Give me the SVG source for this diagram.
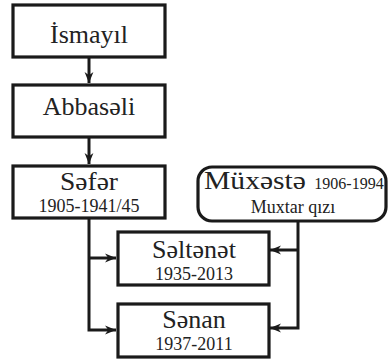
<svg xmlns="http://www.w3.org/2000/svg" width="389" height="359" viewBox="0 0 389 359">
<defs>
<style>
.box{fill:#fff;stroke:#1a1a1a;stroke-width:3.2}
.ln{fill:none;stroke:#1a1a1a;stroke-width:3}
text{font-family:"Liberation Serif","Times New Roman",serif;fill:#222;text-anchor:middle}
.big{font-size:26px}
.sm{font-size:18px}
</style>
<marker id="ah" viewBox="0 0 10 10" refX="10" refY="5" markerWidth="11" markerHeight="11" markerUnits="userSpaceOnUse" orient="auto">
<path d="M0,1 L10,5 L0,9 L3,5 Z" fill="#1a1a1a"/>
</marker>
</defs>
<g id="connectors">
<path class="ln" d="M89,57 V83" marker-end="url(#ah)"/>
<path class="ln" d="M89,137 V164" marker-end="url(#ah)"/>
<path class="ln" d="M89,218 V330 H116" marker-end="url(#ah)"/>
<path class="ln" d="M89,258 H116" marker-end="url(#ah)"/>
<path class="ln" d="M298,221 V328 H270" marker-end="url(#ah)"/>
<path class="ln" d="M298,250 H270" marker-end="url(#ah)"/>
</g>
<g id="ismayil">
<rect class="box" x="13" y="5" width="152" height="52"/>
<text class="big" x="89" y="43">İsmayıl</text>
</g>
<g id="abbaseli">
<rect class="box" x="13" y="85" width="152" height="52"/>
<text class="big" x="89" y="115">Abbasəli</text>
</g>
<g id="sefer">
<rect class="box" x="13" y="166" width="152" height="52"/>
<text class="big" x="89" y="190" textLength="58" lengthAdjust="spacingAndGlyphs">Səfər</text>
<text class="sm" x="89" y="212">1905-1941/45</text>
</g>
<g id="muxeste">
<rect class="box" x="198" y="167" width="188" height="54" rx="14"/>
<text class="big" x="255" y="189" textLength="102" lengthAdjust="spacingAndGlyphs">Müxəstə</text>
<text x="349" y="189" font-size="16px">1906-1994</text>
<text class="sm" x="293" y="213">Muxtar qızı</text>
</g>
<g id="seltenet">
<rect class="box" x="118" y="232" width="151" height="53"/>
<text class="big" x="194" y="258">Səltənət</text>
<text class="sm" x="194" y="280">1935-2013</text>
</g>
<g id="senan">
<rect class="box" x="118" y="304" width="151" height="53"/>
<text class="big" x="194" y="328">Sənan</text>
<text class="sm" x="194" y="350">1937-2011</text>
</g>
</svg>
